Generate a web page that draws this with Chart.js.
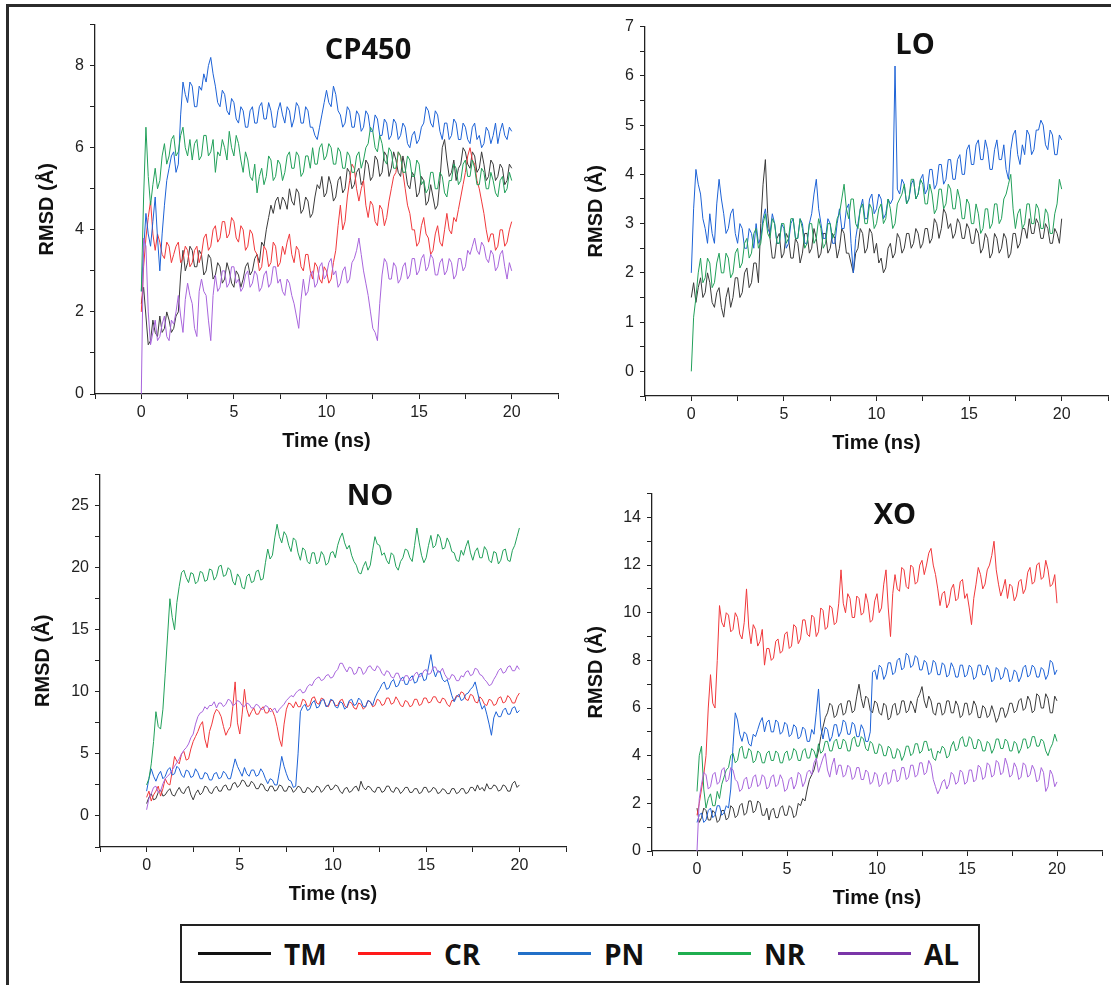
<!DOCTYPE html>
<html>
<head>
<meta charset="utf-8">
<title>RMSD</title>
<script src="https://cdn.jsdelivr.net/npm/chart.js@4.4.1/dist/chart.umd.min.js"></script>
<style>
  html, body { margin: 0; padding: 0; background: #fff; }
  body { width: 1111px; height: 985px; position: relative; overflow: hidden; font-family: "Liberation Sans", Arial, sans-serif; }
  #frame { position: absolute; left: 6px; top: 4px; width: 1200px; height: 1100px; border-top: 3px solid #2b2b2b; border-left: 3px solid #2b2b2b; }
  canvas { position: absolute; }
  .ptitle { position: absolute; transform: translate(-50%, -50%); font: 700 29px "Open Sans", sans-serif; color: #111; white-space: nowrap; }
  #legend { position: absolute; left: 180px; top: 924px; width: 800px; height: 59px; border: 2.5px solid #222; box-sizing: border-box; display: flex; align-items: center; padding-left: 16px; }
  .item { display: flex; align-items: center; width: 160px; flex: none; }
  .key { width: 73px; height: 3px; margin-right: 13px; }
  .lab { font: 700 28px "Open Sans", sans-serif; color: #111; }
</style>
</head>
<body>
<div id="frame"></div>
<div id="legend"></div>
<script>
// temps (ns), un point tous les 0.125 ns
const time = [
  0, 0.125, 0.25, 0.375, 0.5, 0.625, 0.75, 0.875, 1, 1.125, 1.25, 1.375, 1.5, 1.625, 1.75, 1.875,
  2, 2.125, 2.25, 2.375, 2.5, 2.625, 2.75, 2.875, 3, 3.125, 3.25, 3.375, 3.5, 3.625, 3.75, 3.875,
  4, 4.125, 4.25, 4.375, 4.5, 4.625, 4.75, 4.875, 5, 5.125, 5.25, 5.375, 5.5, 5.625, 5.75, 5.875,
  6, 6.125, 6.25, 6.375, 6.5, 6.625, 6.75, 6.875, 7, 7.125, 7.25, 7.375, 7.5, 7.625, 7.75, 7.875,
  8, 8.125, 8.25, 8.375, 8.5, 8.625, 8.75, 8.875, 9, 9.125, 9.25, 9.375, 9.5, 9.625, 9.75, 9.875,
  10, 10.125, 10.25, 10.375, 10.5, 10.625, 10.75, 10.875, 11, 11.125, 11.25, 11.375, 11.5, 11.625, 11.75, 11.875,
  12, 12.125, 12.25, 12.375, 12.5, 12.625, 12.75, 12.875, 13, 13.125, 13.25, 13.375, 13.5, 13.625, 13.75, 13.875,
  14, 14.125, 14.25, 14.375, 14.5, 14.625, 14.75, 14.875, 15, 15.125, 15.25, 15.375, 15.5, 15.625, 15.75, 15.875,
  16, 16.125, 16.25, 16.375, 16.5, 16.625, 16.75, 16.875, 17, 17.125, 17.25, 17.375, 17.5, 17.625, 17.75, 17.875,
  18, 18.125, 18.25, 18.375, 18.5, 18.625, 18.75, 18.875, 19, 19.125, 19.25, 19.375, 19.5, 19.625, 19.75, 19.875,
  20
]

const seriesNames = ["TM", "CR", "PN", "NR", "AL"]
const lineColors = ["#3a3a3a", "#f0383b", "#1d62d6", "#22a05a", "#a865dc"]
const keyColors = ["#111111", "#ff1a1a", "#2270c8", "#1fae4f", "#7a35a8"]

// CP450
const cp450TM = [
  2.2, 2.6, 1.9, 1.2, 1.3, 1.8, 1.5, 1.4, 1.9, 1.5, 1.6, 2.0, 1.8, 1.5, 1.6, 1.9,
  2.0, 2.9, 3.5, 3.0, 3.2, 3.6, 3.5, 3.1, 3.1, 3.5, 3.4, 2.9, 3.0, 3.4, 3.3, 2.8,
  2.9, 3.2, 3.1, 2.7, 2.8, 3.2, 3.0, 2.7, 2.6, 3.0, 2.9, 2.6, 2.8, 3.1, 3.2, 2.9,
  3.0, 3.3, 3.4, 3.2, 3.7, 3.6, 4.0, 4.3, 4.6, 4.4, 4.7, 4.8, 4.5, 4.8, 4.7, 4.5,
  5.0, 4.7, 4.6, 5.0, 4.9, 4.4, 4.5, 4.8, 4.7, 4.3, 4.4, 4.8, 5.1, 5.0, 5.3, 4.8,
  4.9, 5.3, 5.1, 4.7, 4.8, 5.2, 5.3, 4.9, 5.0, 5.5, 5.4, 5.0, 5.1, 5.4, 5.5, 5.1,
  5.2, 5.7, 5.6, 5.2, 5.3, 5.8, 5.7, 5.3, 5.4, 5.9, 5.8, 5.3, 5.5, 5.9, 5.7, 5.4,
  5.3, 5.8, 5.5, 5.1, 5.0, 5.4, 5.3, 4.8, 4.9, 5.3, 5.2, 4.6, 4.7, 5.1, 4.8, 4.5,
  4.6, 5.2, 6.0, 6.2, 5.7, 5.3, 5.4, 5.7, 5.2, 5.5, 5.6, 6.0, 5.9, 5.6, 5.5, 5.9,
  5.8, 5.4, 5.5, 5.9, 5.6, 5.2, 5.3, 5.7, 5.6, 5.2, 5.3, 5.6, 5.5, 5.1, 5.2, 5.6,
  5.5
]
const cp450CR = [
  2.0, 3.1, 3.8, 4.3, 4.7, 3.9, 3.5, 3.9, 3.7, 3.4, 3.3, 3.7, 3.6, 3.2, 3.4, 3.6,
  3.7, 3.2, 3.3, 3.6, 3.5, 3.1, 3.2, 3.5, 3.6, 3.2, 3.4, 3.8, 3.9, 3.5, 3.6, 4.0,
  4.1, 3.7, 3.8, 4.2, 4.2, 3.8, 3.9, 4.3, 4.2, 3.8, 3.7, 4.1, 4.0, 3.5, 3.6, 4.0,
  3.9, 3.5, 3.4, 3.0, 3.1, 3.6, 3.5, 3.1, 3.2, 3.7, 3.6, 3.1, 3.2, 3.6, 3.4, 3.7,
  3.9, 3.4, 3.2, 3.6, 3.5, 3.1, 3.0, 3.4, 3.4, 3.0, 2.8, 3.2, 3.1, 2.8, 2.7, 3.1,
  3.0, 2.7, 2.8, 3.2, 3.5, 4.1, 4.6, 4.0, 4.2, 4.8, 5.2, 5.6, 5.5, 5.0, 4.7, 5.0,
  5.2, 4.6, 4.3, 4.7, 4.6, 4.2, 4.1, 4.6, 4.5, 4.1, 4.3, 4.7, 5.0, 5.3, 5.4, 5.9,
  5.8, 5.4, 5.0, 4.6, 4.4, 4.0, 4.0, 3.6, 3.7, 4.1, 4.3, 3.9, 3.8, 3.4, 3.5, 3.9,
  4.1, 3.7, 3.6, 4.0, 4.4, 4.0, 3.9, 4.3, 4.2, 4.5, 4.8, 5.1, 5.4, 5.8, 6.0, 5.7,
  5.6, 5.2, 5.0, 4.7, 4.4, 4.0, 3.7, 3.9, 3.9, 3.5, 3.6, 4.0, 4.0, 3.6, 3.7, 4.0,
  4.2
]
const cp450PN = [
  2.5, 3.5, 4.4, 3.9, 3.6, 4.2, 4.8, 3.8, 3.0, 3.9, 4.6, 5.2, 5.5, 5.8, 5.9, 5.4,
  5.6, 6.8, 7.6, 7.3, 7.1, 7.6, 7.5, 7.0, 7.0, 7.5, 7.4, 7.8, 7.6, 8.0, 8.2, 7.8,
  7.5, 7.1, 7.0, 7.4, 7.3, 6.9, 6.8, 7.2, 7.1, 6.7, 6.6, 7.0, 6.9, 6.5, 6.5, 6.9,
  7.0, 6.6, 6.6, 7.0, 7.1, 6.7, 6.7, 7.1, 6.9, 6.5, 6.5, 6.9, 7.1, 6.8, 6.6, 7.0,
  6.9, 6.5, 6.7, 7.1, 7.0, 6.6, 6.6, 7.0, 6.9, 6.5, 6.5, 6.3, 6.2, 6.5, 6.8, 7.1,
  7.4, 7.1, 7.0, 7.5, 7.3, 6.9, 6.8, 6.5, 6.6, 7.0, 6.9, 6.5, 6.5, 6.9, 6.8, 6.4,
  6.5, 6.9, 6.8, 6.4, 6.4, 6.8, 6.7, 6.3, 6.3, 6.7, 6.6, 6.2, 6.3, 6.7, 6.6, 6.2,
  6.3, 6.6, 6.5, 6.1, 6.0, 6.3, 6.4, 6.1, 6.2, 6.5, 6.6, 7.0, 6.9, 6.6, 6.5, 6.9,
  6.8, 6.4, 6.2, 6.6, 6.6, 6.2, 6.3, 6.7, 6.6, 6.2, 6.2, 6.6, 6.5, 6.2, 6.1, 6.5,
  6.6, 6.2, 6.3, 6.0, 6.1, 6.5, 6.4, 6.1, 6.3, 6.6, 6.1, 6.4, 6.6, 6.3, 6.2, 6.5,
  6.4
]
const cp450NR = [
  2.5, 4.8, 6.5, 5.3, 4.6, 5.1, 5.5, 5.0, 5.2, 5.8, 6.1, 5.6, 5.8, 6.2, 6.3, 5.8,
  5.9, 6.3, 6.5, 6.0, 5.8, 6.2, 5.7, 6.1, 6.2, 5.7, 5.8, 6.3, 6.3, 5.8, 5.9, 6.2,
  5.4, 5.9, 5.8, 6.2, 6.0, 5.7, 6.4, 6.0, 5.8, 6.3, 6.1, 5.7, 5.4, 5.9, 5.7, 5.3,
  5.2, 5.6, 4.9, 5.3, 5.5, 5.1, 5.3, 5.8, 5.7, 5.2, 5.3, 5.7, 5.6, 5.2, 5.4, 5.8,
  5.9, 5.5, 5.5, 5.9, 5.8, 5.3, 5.4, 5.8, 5.8, 5.5, 6.0, 5.6, 5.6, 6.0, 6.1, 5.7,
  5.8, 6.1, 6.0, 5.6, 5.6, 6.0, 5.9, 5.5, 5.5, 5.9, 5.8, 5.4, 5.4, 5.8, 5.9, 5.5,
  5.7, 6.0, 6.1, 6.5, 6.4, 6.0, 5.9, 6.3, 6.1, 5.7, 5.6, 6.0, 5.9, 5.5, 5.5, 5.9,
  5.8, 5.4, 5.4, 5.8, 5.7, 5.3, 5.3, 5.7, 5.6, 5.1, 5.2, 4.9, 5.0, 5.4, 5.4, 5.0,
  5.0, 5.4, 5.3, 4.9, 4.8, 5.2, 5.2, 5.6, 5.5, 5.1, 5.2, 5.6, 5.7, 5.3, 5.3, 5.7,
  5.5, 5.1, 5.1, 5.5, 5.4, 5.0, 5.0, 5.4, 5.2, 4.9, 4.8, 5.2, 5.3, 4.9, 5.0, 5.4,
  5.2
]
const cp450AL = [
  0.0, 3.8, 3.6, 2.0, 1.2, 1.5, 1.8, 1.3, 1.4, 1.7, 1.9, 1.4, 1.3, 1.8, 1.7, 2.0,
  2.4, 1.9, 1.5, 2.3, 2.7, 2.4, 2.2, 1.6, 1.4, 2.5, 2.8, 2.5, 2.4, 1.8, 1.3, 2.4,
  2.9, 2.5, 2.6, 3.0, 3.0, 2.6, 2.7, 3.1, 3.1, 2.7, 2.8, 2.5, 2.6, 2.9, 3.0, 2.6,
  2.7, 3.0, 2.9, 2.5, 2.6, 2.9, 3.0, 2.6, 2.7, 3.1, 3.1, 2.7, 2.8, 2.5, 2.4, 2.8,
  2.7, 2.4, 2.2, 1.9, 1.6, 2.3, 2.8, 2.4, 2.5, 2.9, 3.0, 2.6, 2.7, 3.1, 3.2, 2.8,
  2.9, 3.2, 3.3, 2.9, 3.0, 2.6, 2.7, 3.0, 3.1, 2.7, 2.8, 3.2, 3.3, 3.5, 3.8, 3.4,
  3.0, 2.7, 2.4, 2.0, 1.6, 1.5, 1.3, 2.2, 2.9, 3.3, 3.2, 2.8, 2.8, 3.2, 3.1, 2.7,
  2.8, 3.1, 3.2, 2.8, 2.9, 3.3, 3.3, 2.9, 3.0, 3.3, 3.4, 3.0, 3.1, 3.4, 3.3, 2.9,
  2.9, 3.2, 3.3, 2.9, 3.0, 3.3, 3.2, 2.8, 2.9, 3.3, 3.3, 3.0, 3.1, 3.5, 3.4, 3.6,
  3.8, 3.5, 3.4, 3.7, 3.6, 3.3, 3.2, 3.5, 3.4, 3.0, 3.1, 3.4, 3.5, 3.1, 2.8, 3.2,
  3.0
]

// LO (pas de CR ni AL)
const loTM = [
  1.5, 1.8, 1.4, 1.7, 1.9, 1.5, 1.6, 2.0, 1.8, 1.4, 1.3, 1.6, 1.7, 1.3, 1.1, 1.5,
  1.7, 1.3, 1.5, 1.9, 1.9, 1.5, 1.6, 2.0, 2.1, 1.7, 1.8, 2.2, 2.2, 1.8, 3.0, 3.8,
  4.3, 3.2, 2.7, 2.3, 2.3, 2.7, 2.8, 2.3, 2.4, 2.8, 2.7, 2.3, 2.3, 2.7, 2.6, 2.2,
  2.4, 2.8, 2.8, 2.4, 2.5, 2.9, 2.7, 2.3, 2.4, 2.8, 2.8, 2.4, 2.5, 2.8, 2.7, 2.3,
  2.5, 2.9, 2.8, 2.4, 2.4, 2.2, 2.0, 2.4, 2.5, 2.9, 2.8, 2.4, 2.5, 2.9, 2.8, 2.4,
  2.6, 2.2, 2.3, 2.0, 2.1, 2.5, 2.6, 2.3, 2.4, 2.8, 2.7, 2.4, 2.5, 2.8, 2.8, 2.5,
  2.6, 2.9, 2.8, 2.5, 2.6, 2.9, 2.9, 2.6, 2.7, 3.1, 3.0, 2.7, 2.9, 3.3, 3.2, 2.9,
  3.0, 2.7, 2.8, 3.1, 3.0, 2.7, 2.7, 3.0, 2.9, 2.6, 2.6, 2.9, 2.8, 2.4, 2.5, 2.8,
  2.7, 2.3, 2.4, 2.8, 2.7, 2.4, 2.5, 2.8, 2.7, 2.3, 2.4, 2.8, 2.8, 2.5, 2.6, 2.9,
  2.9, 2.7, 3.1, 2.8, 2.8, 3.1, 3.0, 2.7, 2.7, 3.0, 2.9, 2.6, 2.6, 2.9, 2.8, 2.6,
  3.1
]
const loPN = [
  2.0, 3.3, 4.1, 3.8, 3.6, 3.1, 2.9, 2.6, 3.2, 2.8, 2.6, 3.4, 3.9, 3.5, 3.2, 2.8,
  2.9, 3.2, 3.3, 2.8, 2.6, 3.0, 2.9, 2.5, 2.5, 2.9, 2.8, 2.5, 3.0, 2.6, 2.7, 3.1,
  3.3, 2.9, 2.8, 3.2, 3.0, 2.6, 2.6, 3.0, 2.9, 2.5, 2.6, 3.0, 3.1, 2.7, 2.7, 3.1,
  3.0, 2.6, 2.6, 3.0, 3.2, 3.6, 3.9, 3.3, 3.0, 2.7, 2.7, 3.1, 3.0, 2.6, 2.6, 3.0,
  3.3, 2.9, 2.9, 3.3, 3.4, 2.6, 2.0, 2.7, 3.0, 3.3, 3.5, 3.1, 3.1, 3.5, 3.6, 3.2,
  3.3, 3.6, 3.5, 3.1, 3.2, 3.5, 3.4, 3.5, 6.2, 3.7, 3.6, 3.9, 3.8, 3.4, 3.5, 3.8,
  3.9, 3.5, 3.6, 3.9, 4.0, 3.6, 3.7, 4.1, 4.1, 3.7, 3.8, 4.2, 4.2, 3.8, 3.9, 4.3,
  4.3, 3.9, 3.9, 4.3, 4.4, 4.0, 4.0, 4.5, 4.6, 4.2, 4.2, 4.6, 4.7, 4.3, 4.3, 4.7,
  4.5, 4.1, 4.1, 4.5, 4.7, 4.3, 4.3, 4.6, 4.1, 3.9, 4.5, 4.8, 4.9, 4.4, 4.2, 4.6,
  4.4, 4.9, 4.8, 4.4, 4.5, 4.9, 4.9, 5.1, 5.0, 4.6, 4.5, 4.9, 4.8, 4.4, 4.4, 4.8,
  4.7
]
const loNR = [
  0.0, 1.1, 1.5, 2.0, 2.3, 1.8, 1.9, 2.3, 2.2, 1.7, 1.8, 2.2, 2.4, 2.0, 2.0, 2.4,
  2.3, 1.9, 2.0, 2.4, 2.5, 2.1, 2.2, 2.6, 2.7, 2.3, 2.4, 2.8, 2.9, 2.5, 2.6, 3.0,
  3.2, 2.8, 2.7, 3.1, 3.0, 2.6, 2.6, 3.0, 3.0, 2.6, 2.7, 3.1, 3.1, 2.7, 2.7, 3.1,
  2.9, 2.5, 2.6, 3.0, 3.0, 2.6, 2.7, 3.1, 2.9, 2.5, 2.6, 3.0, 3.0, 2.7, 2.8, 3.1,
  3.2, 3.5, 3.8, 3.3, 3.1, 3.5, 3.5, 3.0, 2.9, 3.3, 3.4, 3.0, 3.0, 3.4, 3.3, 2.9,
  3.0, 3.3, 3.4, 3.0, 3.1, 3.5, 3.3, 2.9, 3.0, 3.4, 3.5, 3.6, 3.8, 3.4, 3.5, 3.9,
  3.9, 3.5, 3.6, 3.9, 3.8, 3.4, 3.4, 3.8, 3.6, 3.2, 3.3, 3.7, 3.7, 3.3, 3.4, 3.8,
  3.7, 3.3, 3.3, 3.7, 3.5, 3.1, 3.1, 3.5, 3.4, 3.0, 3.0, 3.4, 3.2, 2.8, 2.9, 3.3,
  3.3, 2.9, 3.0, 3.4, 3.4, 3.0, 3.1, 3.5, 3.6, 3.8, 4.0, 3.3, 2.9, 3.2, 3.3, 2.9,
  3.0, 3.4, 3.4, 3.0, 3.0, 3.4, 3.3, 2.9, 2.9, 3.3, 3.2, 2.8, 2.8, 3.2, 3.4, 3.9,
  3.7
]

// NO
const noTM = [
  1.0, 1.5, 1.8, 1.3, 1.4, 1.9, 2.1, 1.6, 1.7, 2.0, 2.2, 1.7, 1.6, 2.0, 2.3, 1.9,
  1.8, 2.2, 2.4, 1.7, 1.3, 1.8, 2.1, 1.7, 1.9, 2.4, 2.3, 1.9, 1.8, 2.2, 2.4, 2.0,
  2.0, 2.4, 2.5, 2.1, 2.1, 2.6, 2.7, 2.3, 2.5, 2.9, 2.8, 2.4, 2.4, 2.8, 2.6, 2.2,
  2.2, 2.6, 2.5, 2.1, 2.0, 2.4, 2.4, 2.0, 2.1, 2.5, 2.4, 2.0, 2.0, 2.4, 2.3, 1.9,
  2.1, 2.4, 2.3, 1.9, 1.9, 2.3, 2.2, 1.9, 2.0, 2.4, 2.3, 1.9, 2.1, 2.4, 2.5, 2.1,
  2.2, 2.5, 2.4, 2.0, 1.8, 2.2, 2.3, 1.9, 2.0, 2.3, 2.4, 2.0, 2.8, 2.3, 2.1, 2.4,
  2.3, 2.0, 1.9, 2.3, 2.3, 1.9, 2.0, 2.4, 2.4, 2.0, 1.9, 2.3, 2.2, 1.8, 2.0, 2.3,
  2.3, 1.9, 1.9, 2.2, 2.2, 1.8, 1.9, 2.3, 2.3, 1.9, 2.0, 2.3, 2.2, 1.8, 1.9, 2.2,
  2.1, 1.8, 1.8, 2.2, 2.2, 1.8, 1.9, 2.2, 2.2, 1.8, 1.9, 2.3, 2.3, 2.0, 2.5, 2.1,
  2.3, 2.0, 2.6, 2.2, 2.2, 2.5, 2.4, 2.0, 2.1, 2.5, 2.4, 2.0, 2.0, 2.6, 2.8, 2.3,
  2.5
]
const noCR = [
  1.5, 2.0, 1.2, 1.7, 2.0, 2.4, 1.6, 2.2, 3.0, 2.6, 2.5, 3.6, 4.8, 4.4, 4.2, 5.0,
  5.2, 4.5, 4.6, 5.4, 6.0, 6.4, 6.8, 7.3, 7.6, 6.2, 5.5, 6.8, 7.4, 8.2, 8.6, 8.4,
  8.0, 7.2, 6.5, 6.9, 7.2, 8.8, 10.8, 7.5, 6.6, 8.2, 10.2, 8.6, 8.0, 8.4, 8.7, 8.2,
  8.2, 8.6, 8.8, 8.3, 8.3, 8.7, 8.5, 8.0, 7.2, 6.2, 5.6, 7.4, 8.6, 9.1, 9.0, 8.7,
  9.2, 8.8, 8.8, 9.4, 9.3, 8.8, 8.9, 9.5, 9.6, 9.1, 9.0, 9.5, 9.4, 8.9, 8.8, 9.3,
  9.3, 8.9, 8.9, 9.3, 9.4, 8.9, 8.7, 9.2, 9.1, 8.7, 8.6, 9.1, 9.0, 8.6, 8.8, 9.3,
  9.2, 8.8, 8.9, 9.4, 9.3, 8.9, 9.0, 9.5, 9.5, 9.0, 9.1, 9.6, 9.3, 8.9, 8.8, 9.3,
  9.2, 8.8, 8.9, 9.4, 9.4, 8.9, 9.0, 9.5, 9.5, 9.1, 9.2, 9.6, 9.6, 9.2, 9.1, 9.5,
  9.4, 9.0, 8.8, 9.3, 9.3, 9.7, 9.6, 10.0, 9.9, 9.4, 9.3, 9.8, 9.7, 9.2, 9.1, 9.6,
  9.4, 9.0, 8.9, 9.4, 9.3, 8.9, 9.0, 9.5, 9.6, 9.1, 9.2, 9.7, 9.5, 9.1, 9.1, 9.6,
  9.9
]
const noPN = [
  2.0, 3.0, 3.8, 3.2, 2.8, 3.3, 3.6, 3.0, 3.2, 3.7, 3.9, 3.3, 3.4, 4.0, 3.8, 3.3,
  3.1, 3.7, 3.6, 3.1, 3.2, 3.8, 3.5, 3.0, 3.0, 3.5, 3.4, 2.9, 2.9, 3.4, 3.5, 3.0,
  3.1, 3.6, 3.4, 3.0, 3.0, 3.8, 4.6, 4.0, 3.6, 3.2, 3.9, 3.4, 3.2, 3.7, 3.7, 3.2,
  3.3, 3.8, 3.5, 3.0, 2.6, 3.0, 2.9, 2.5, 2.5, 3.6, 4.8, 4.0, 3.4, 2.9, 2.8, 2.3,
  2.4, 5.0, 8.4, 8.8, 9.0, 8.5, 8.6, 9.1, 9.3, 8.7, 8.8, 9.3, 9.4, 8.8, 8.9, 9.4,
  9.3, 8.8, 8.7, 9.2, 9.1, 8.6, 8.8, 9.3, 9.4, 8.9, 9.0, 9.5, 9.3, 8.8, 8.8, 9.3,
  9.2, 8.9, 9.5, 9.9, 10.2, 10.6, 10.8, 10.2, 10.3, 10.8, 11.0, 10.4, 10.5, 11.0, 11.2, 10.6,
  10.6, 11.1, 11.3, 10.7, 10.8, 11.4, 11.5, 10.9, 11.0, 12.0, 13.0, 11.8, 11.2, 11.7, 11.6, 11.0,
  10.8, 11.0, 10.4, 9.7, 9.2, 9.6, 9.8, 9.3, 9.4, 9.8, 9.9, 10.2, 10.4, 10.8, 10.0, 9.2,
  8.6, 8.9, 8.2, 7.4, 6.5, 7.9, 8.4, 8.0, 8.0, 8.5, 8.7, 8.2, 8.2, 8.7, 8.8, 8.3,
  8.5
]
const noNR = [
  2.5, 3.0, 4.2, 6.0, 8.4, 7.2, 7.0, 8.6, 11.5, 14.5, 17.5, 16.0, 15.0, 17.2, 18.5, 19.6,
  19.8, 19.2, 18.8, 19.6, 19.5, 18.7, 18.9, 19.7, 19.6, 18.9, 19.0, 19.9, 19.8, 19.0, 19.3, 20.1,
  20.2, 19.3, 19.4, 20.0, 19.8, 18.9, 18.6, 19.5, 19.2, 18.4, 18.3, 19.3, 19.5, 18.8, 18.9, 19.7,
  19.8, 19.0, 19.1, 20.4, 21.5, 20.7, 21.0, 22.4, 23.5, 22.5, 22.0, 22.9, 22.6, 21.8, 21.3, 22.4,
  22.2, 21.2, 20.6, 21.6, 21.4, 20.5, 20.3, 21.2, 21.2, 20.3, 20.5, 21.3, 21.0, 20.2, 20.4, 21.2,
  21.3, 20.8, 21.8, 22.4, 22.8, 22.0, 21.5, 21.8, 21.0, 20.5, 20.2, 19.6, 19.5, 20.1, 20.5, 19.8,
  20.2, 21.4, 22.5, 21.9, 21.8, 21.0, 21.2, 20.6, 20.3, 21.2, 21.0, 20.1, 19.8, 20.5, 20.8, 21.5,
  21.4, 20.8, 20.5, 21.8, 23.2, 22.0, 21.0, 20.4, 20.8, 21.8, 22.6, 21.6, 21.8, 22.7, 22.4, 21.5,
  21.6, 22.4, 22.0, 21.3, 21.2, 20.6, 20.5, 21.4, 21.0, 21.7, 22.2, 21.2, 20.6, 21.3, 21.6, 20.8,
  20.8, 21.7, 21.4, 20.6, 20.4, 21.3, 21.2, 20.3, 20.6, 21.4, 21.5, 20.6, 20.5, 21.4, 21.8, 22.5,
  23.2
]
const noAL = [
  0.5, 1.4, 1.8, 2.3, 2.4, 1.9, 2.0, 2.6, 3.0, 3.2, 3.4, 3.7, 4.0, 4.3, 4.6, 5.0,
  5.3, 5.5, 5.8, 6.3, 6.6, 7.4, 8.0, 8.3, 8.4, 8.8, 8.6, 8.9, 8.9, 9.2, 8.7, 9.1,
  9.1, 8.8, 9.0, 9.4, 9.3, 8.9, 9.0, 9.3, 9.2, 8.9, 8.8, 9.1, 9.0, 8.7, 8.7, 9.0,
  8.9, 8.6, 8.6, 8.9, 8.8, 8.4, 8.5, 8.7, 8.3, 8.6, 8.8, 9.0, 9.3, 9.5, 9.7, 9.6,
  9.9, 10.1, 10.2, 9.9, 10.0, 10.4, 10.6, 10.5, 10.9, 11.1, 11.2, 10.9, 11.0, 11.3, 11.4, 11.1,
  11.2, 11.6, 11.8, 12.3, 12.3, 11.9, 11.6, 12.0, 11.9, 11.4, 11.5, 12.0, 11.9, 11.4, 11.6, 12.0,
  12.1, 11.8, 11.7, 12.1, 11.9, 11.5, 11.3, 11.7, 11.6, 11.2, 11.1, 11.5, 11.5, 11.0, 10.9, 11.3,
  11.3, 10.9, 11.0, 11.4, 11.6, 11.2, 11.3, 11.7, 11.8, 11.4, 11.5, 12.0, 12.0, 11.6, 11.6, 11.9,
  11.4, 11.1, 11.0, 11.4, 11.3, 10.9, 10.9, 11.3, 11.2, 11.6, 11.7, 11.3, 11.4, 11.9, 11.8, 11.4,
  11.3, 11.0, 10.8, 10.5, 10.6, 11.0, 11.3, 11.7, 11.9, 11.5, 11.6, 12.0, 12.1, 11.7, 11.7, 12.1,
  11.8
]

// XO
const xoTM = [
  1.8, 1.2, 1.4, 1.8, 1.7, 1.3, 1.3, 1.7, 1.6, 1.2, 1.3, 1.7, 1.7, 1.3, 1.4, 1.9,
  1.8, 1.4, 1.5, 1.9, 2.0, 1.5, 1.6, 2.1, 2.1, 1.6, 1.7, 2.1, 2.0, 1.5, 1.5, 1.8,
  1.3, 1.7, 1.8, 1.4, 1.4, 1.8, 1.9, 1.5, 1.5, 1.9, 1.8, 1.4, 1.5, 2.0, 1.9, 2.2,
  2.1, 2.6, 3.0, 3.2, 3.4, 3.8, 4.2, 4.8, 5.2, 5.6, 5.8, 6.2, 6.1, 5.6, 5.7, 6.1,
  6.2, 5.7, 5.8, 6.3, 6.3, 5.8, 5.9, 6.5, 7.0, 6.4, 6.0, 6.5, 6.4, 5.9, 5.8, 6.3,
  6.2, 5.8, 5.7, 6.2, 6.1, 5.5, 5.6, 6.1, 6.2, 5.7, 5.8, 6.3, 6.3, 5.8, 5.9, 6.3,
  6.1, 5.8, 6.4, 6.6, 6.9, 6.3, 6.0, 6.5, 6.3, 5.8, 5.7, 6.2, 6.2, 5.7, 5.8, 6.3,
  6.3, 5.8, 5.8, 6.3, 6.1, 5.6, 5.7, 6.2, 6.2, 5.7, 5.8, 6.3, 6.1, 5.6, 5.6, 6.1,
  6.0, 5.6, 5.7, 6.1, 5.8, 5.4, 5.6, 6.0, 6.0, 5.6, 5.8, 6.2, 6.2, 5.8, 5.9, 6.3,
  6.4, 5.9, 6.0, 6.5, 6.3, 5.8, 5.9, 6.6, 6.5, 6.0, 6.0, 6.6, 6.4, 5.8, 5.8, 6.5,
  6.3
]
const xoCR = [
  1.5, 2.0, 2.6, 3.2, 4.0, 6.0, 7.4, 6.2, 6.0, 8.0, 10.3, 9.6, 9.4, 10.0, 9.9, 9.2,
  9.3, 10.0, 9.8, 9.1, 8.9, 9.6, 11.0, 9.4, 8.7, 9.5, 9.3, 8.6, 8.8, 9.3, 7.8, 8.5,
  8.5, 8.0, 8.1, 8.8, 8.9, 8.3, 8.4, 9.1, 9.2, 8.5, 8.6, 9.5, 9.4, 8.7, 8.9, 9.7,
  9.7, 9.1, 9.0, 9.9, 9.8, 9.0, 9.2, 10.2, 10.1, 9.3, 9.4, 10.3, 10.2, 9.5, 9.6, 10.4,
  11.8, 10.4, 10.0, 10.8, 10.6, 9.8, 9.8, 10.7, 10.6, 9.9, 10.0, 10.8, 10.4, 9.6, 9.7, 10.5,
  10.8, 10.0, 10.2, 11.2, 11.8, 10.2, 9.0, 10.8, 11.6, 11.0, 10.9, 11.9, 11.8, 11.1, 11.0, 12.0,
  11.9, 11.2, 11.3, 12.0, 12.2, 11.6, 12.0, 12.5, 12.7, 12.0, 11.6, 11.0, 10.3, 10.8, 10.9, 10.2,
  10.4, 11.0, 11.2, 10.5, 10.6, 11.3, 11.4, 10.6, 10.8, 10.2, 9.5, 10.6, 11.2, 11.9, 11.6, 11.0,
  11.2, 11.8, 12.0, 12.4, 13.0, 11.8, 11.2, 10.7, 11.0, 11.4, 10.6, 11.2, 11.1, 10.5, 10.7, 11.3,
  11.4, 10.8, 11.0, 11.7, 11.9, 11.2, 11.3, 12.0, 12.1, 11.4, 11.5, 12.2, 11.8, 11.1, 11.2, 11.6,
  10.4
]
const xoPN = [
  1.2, 1.5, 1.6, 1.2, 1.3, 1.7, 1.8, 1.4, 1.5, 1.9, 1.9, 1.5, 1.6, 1.9, 1.8, 2.6,
  4.4, 5.8, 5.5, 4.9, 4.6, 5.0, 4.9, 4.5, 4.4, 4.9, 4.8, 5.1, 5.4, 5.6, 5.0, 5.4,
  5.5, 5.0, 5.0, 5.5, 5.4, 4.9, 5.0, 5.4, 5.3, 4.8, 4.9, 5.3, 5.2, 4.7, 4.8, 5.2,
  5.1, 4.6, 4.6, 5.1, 4.9, 5.8, 6.8, 5.2, 4.7, 5.2, 5.1, 4.6, 4.8, 5.3, 5.3, 4.8,
  5.0, 5.5, 5.4, 4.9, 4.9, 5.4, 5.3, 4.8, 4.8, 5.3, 5.1, 4.6, 4.6, 5.0, 7.5, 7.6,
  7.2, 7.8, 7.7, 7.2, 7.4, 7.9, 7.9, 7.4, 7.5, 8.0, 8.1, 7.6, 7.7, 8.3, 8.2, 7.7,
  7.8, 8.2, 8.1, 7.6, 7.6, 8.0, 7.9, 7.4, 7.5, 8.0, 7.9, 7.4, 7.4, 7.9, 7.8, 7.3,
  7.4, 7.9, 7.7, 7.3, 7.3, 7.8, 7.8, 7.3, 7.4, 7.8, 7.7, 7.2, 7.3, 7.8, 7.8, 7.4,
  7.4, 7.8, 7.6, 7.1, 7.2, 7.7, 7.6, 7.2, 7.3, 7.7, 7.6, 7.1, 7.2, 7.6, 7.5, 7.1,
  7.3, 7.7, 7.8, 7.3, 7.4, 7.8, 7.7, 7.3, 7.3, 7.7, 7.6, 7.2, 7.4, 8.0, 7.9, 7.4,
  7.6
]
const xoNR = [
  2.5, 4.0, 4.4, 2.6, 1.8, 2.2, 2.4, 1.9, 1.9, 2.5, 2.2, 2.8, 3.1, 3.4, 3.5, 4.0,
  4.1, 3.7, 3.8, 4.3, 4.4, 3.9, 3.9, 4.3, 4.2, 3.7, 3.8, 4.2, 4.1, 3.7, 3.7, 4.1,
  4.2, 3.8, 3.8, 4.2, 4.1, 3.7, 3.7, 4.1, 4.2, 3.8, 3.9, 4.3, 4.2, 3.8, 3.8, 4.2,
  4.3, 3.9, 3.9, 4.3, 4.2, 3.9, 4.5, 4.1, 4.2, 4.6, 4.6, 4.2, 4.2, 4.6, 4.7, 4.3,
  4.3, 4.7, 4.6, 4.2, 4.2, 4.7, 4.8, 4.4, 4.4, 4.8, 4.7, 4.3, 4.2, 4.6, 4.5, 4.1,
  4.1, 4.5, 4.4, 4.0, 4.0, 4.4, 4.3, 3.9, 3.9, 4.3, 4.2, 3.8, 4.0, 4.4, 4.4, 4.0,
  4.1, 4.5, 4.5, 4.1, 4.2, 4.6, 4.6, 4.2, 4.3, 3.9, 3.8, 4.2, 4.1, 4.4, 4.3, 3.9,
  4.0, 4.4, 4.6, 4.2, 4.3, 4.7, 4.8, 4.4, 4.4, 4.8, 4.7, 4.3, 4.3, 4.7, 4.6, 4.2,
  4.2, 4.6, 4.5, 4.1, 4.3, 4.7, 4.7, 4.3, 4.3, 4.7, 4.6, 4.2, 4.2, 4.6, 4.5, 4.1,
  4.3, 4.7, 4.7, 4.3, 4.4, 4.8, 4.8, 4.4, 4.4, 4.7, 4.6, 4.2, 4.0, 4.3, 4.5, 4.9,
  4.6
]
const xoAL = [
  0.0, 2.2, 2.8, 3.3, 3.2, 2.6, 2.7, 3.2, 3.3, 2.8, 2.9, 3.4, 3.5, 2.9, 3.0, 3.5,
  3.4, 3.0, 2.9, 2.5, 2.6, 3.0, 3.1, 2.6, 2.7, 3.1, 3.2, 2.7, 2.8, 3.2, 3.1, 2.6,
  2.7, 3.1, 3.2, 2.7, 2.8, 3.2, 3.0, 2.5, 2.6, 3.0, 3.1, 2.6, 2.8, 3.3, 3.2, 2.7,
  2.9, 3.3, 3.4, 3.2, 3.7, 3.9, 3.3, 3.6, 3.9, 4.1, 3.4, 3.1, 3.6, 3.9, 3.2, 3.6,
  3.6, 3.1, 3.2, 3.6, 3.5, 3.0, 3.1, 3.5, 3.5, 3.0, 3.0, 3.4, 3.3, 2.8, 2.9, 3.3,
  3.2, 2.7, 2.8, 3.2, 3.3, 2.8, 2.9, 3.4, 3.4, 2.9, 3.0, 3.5, 3.5, 3.0, 3.1, 3.6,
  3.6, 3.1, 3.2, 3.7, 3.7, 3.2, 3.3, 3.8, 3.6, 3.0, 2.7, 2.4, 2.6, 2.9, 3.0, 2.6,
  2.8, 3.3, 3.2, 2.8, 2.9, 3.4, 3.3, 2.8, 2.9, 3.4, 3.4, 2.9, 3.0, 3.6, 3.5, 3.0,
  3.1, 3.7, 3.6, 3.1, 3.2, 3.8, 3.7, 3.2, 3.3, 3.9, 3.6, 3.1, 3.2, 3.7, 3.5, 3.0,
  3.1, 3.7, 3.6, 3.1, 3.2, 3.6, 3.4, 2.9, 3.0, 3.5, 3.3, 2.5, 2.7, 3.4, 3.2, 2.7,
  2.9
]

// mise en page : zone de tracé de chaque panneau (px)
const panels = [
  { title: "CP450", area: { l: 95, t: 21, r: 558, b: 394 }, yAxisW: 64, titleAt: [368, 47],
    yMin: 0, yMax: 9, yStep: 1, yMajor: 2,
    series: [cp450TM, cp450CR, cp450PN, cp450NR, cp450AL] },
  { title: "LO", area: { l: 645, t: 23, r: 1108, b: 396 }, yAxisW: 65, titleAt: [915, 42],
    yMin: -0.5, yMax: 7, yStep: 0.5, yMajor: 1,
    series: [loTM, null, loPN, loNR, null] },
  { title: "NO", area: { l: 100, t: 471, r: 566, b: 847 }, yAxisW: 73, titleAt: [370, 493],
    yMin: -2.5, yMax: 27.5, yStep: 2.5, yMajor: 5,
    series: [noTM, noCR, noPN, noNR, noAL] },
  { title: "XO", area: { l: 652, t: 490, r: 1102, b: 851 }, yAxisW: 72, titleAt: [895, 512],
    yMin: 0, yMax: 15, yStep: 1, yMajor: 2,
    series: [xoTM, xoCR, xoPN, xoNR, xoAL] }
]

const padTop = 12
const padRight = 12
const xAxisH = 63
const axisColor = "#222"
const tickFont = { family: "'Liberation Sans', Arial, sans-serif", size: 16 }
const titleFont = { family: "'Liberation Sans', Arial, sans-serif", size: 20, weight: "bold" }

function isMajor(v, major, lo, hi) {
  if (v < lo - 1e-6 || v > hi + 1e-6) return false
  const r = Math.abs(v / major - Math.round(v / major))
  return r < 1e-6
}

panels.forEach(p => {
  const a = p.area
  const canvas = document.createElement("canvas")
  const w = (a.r - a.l) + p.yAxisW + padRight
  const h = (a.b - a.t) + padTop + xAxisH
  canvas.width = w
  canvas.height = h
  canvas.style.left = (a.l - p.yAxisW) + "px"
  canvas.style.top = (a.t - padTop) + "px"
  canvas.style.width = w + "px"
  canvas.style.height = h + "px"
  document.body.appendChild(canvas)

  const datasets = []
  p.series.forEach((vals, i) => {
    if (!vals) return
    datasets.push({
      label: seriesNames[i],
      data: time.map((t, k) => ({ x: t, y: vals[k] })),
      borderColor: lineColors[i],
      borderWidth: 1,
      pointRadius: 0,
      tension: 0,
      fill: false,
      order: 4 - i
    })
  })

  new Chart(canvas, {
    type: "line",
    data: { datasets },
    options: {
      responsive: false,
      animation: false,
      events: [],
      layout: { padding: { top: padTop, right: padRight, left: 0, bottom: 0 } },
      plugins: { legend: { display: false }, tooltip: { enabled: false } },
      scales: {
        x: {
          type: "linear", min: -2.5, max: 22.5,
          afterFit: (s) => { s.height = xAxisH },
          ticks: {
            stepSize: 2.5, autoSkip: false, maxRotation: 0, maxTicksLimit: 100, padding: 4,
            color: axisColor, font: tickFont,
            callback: (v) => isMajor(v, 5, 0, 20) ? String(v) : ""
          },
          grid: { drawOnChartArea: false, tickLength: 5, color: axisColor, lineWidth: 1 },
          border: { color: axisColor, width: 1.3 },
          title: { display: true, text: "Time (ns)", color: "#111", font: titleFont, padding: { top: 4, bottom: 4 } }
        },
        y: {
          type: "linear", min: p.yMin, max: p.yMax,
          afterFit: (s) => { s.width = p.yAxisW },
          ticks: {
            stepSize: p.yStep, autoSkip: false, maxTicksLimit: 100, padding: 6,
            color: axisColor, font: tickFont,
            callback: (v) => isMajor(v, p.yMajor, 0, 100) ? String(v) : ""
          },
          grid: { drawOnChartArea: false, tickLength: 5, color: axisColor, lineWidth: 1 },
          border: { color: axisColor, width: 1.3 },
          title: { display: true, text: "RMSD (Å)", color: "#111", font: titleFont, padding: { top: 4, bottom: 4 } }
        }
      }
    }
  })

  const t = document.createElement("div")
  t.className = "ptitle"
  t.textContent = p.title
  t.style.left = p.titleAt[0] + "px"
  t.style.top = p.titleAt[1] + "px"
  document.body.appendChild(t)
})

// légende commune
const legend = document.getElementById("legend")
seriesNames.forEach((name, i) => {
  const item = document.createElement("div")
  item.className = "item"
  const key = document.createElement("span")
  key.className = "key"
  key.style.background = keyColors[i]
  const lab = document.createElement("span")
  lab.className = "lab"
  lab.textContent = name
  item.appendChild(key)
  item.appendChild(lab)
  legend.appendChild(item)
})
</script>
</body>
</html>
